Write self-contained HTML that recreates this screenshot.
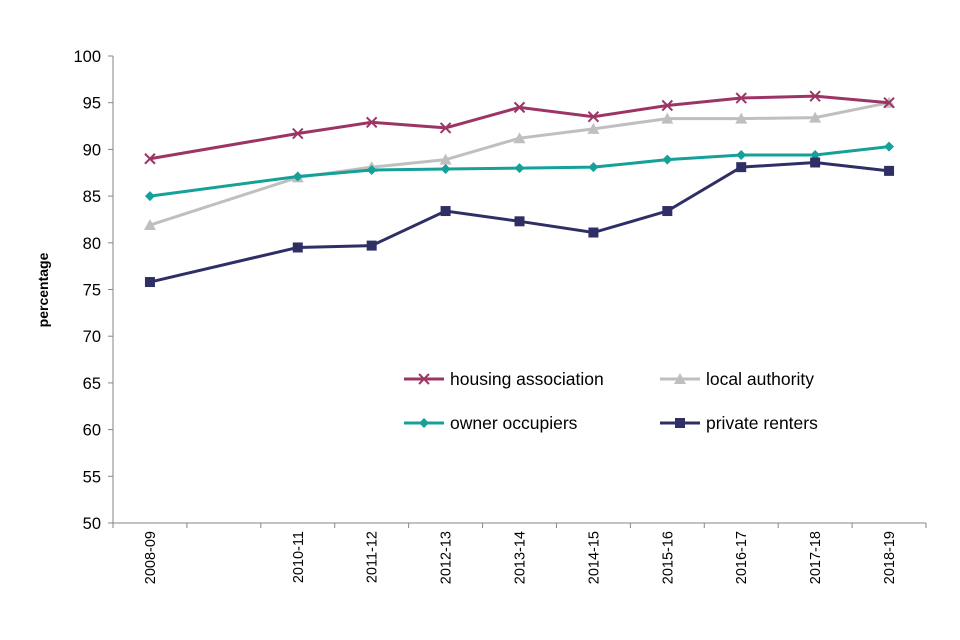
<!DOCTYPE html>
<html><head><meta charset="utf-8"><style>
body{margin:0;background:#fff;}
svg{display:block;font-family:"Liberation Sans",Arial,sans-serif;}
</style></head><body>
<svg id="chart" width="960" height="640"></svg>
<script>
const categories=["2008-09","2010-11","2011-12","2012-13","2013-14","2014-15","2015-16","2016-17","2017-18","2018-19"];
const slots=[0,2,3,4,5,6,7,8,9,10];
const housingAssociation=[89.0,91.7,92.9,92.3,94.5,93.5,94.7,95.5,95.7,95.0];
const localAuthority=[81.9,87.0,88.1,88.9,91.2,92.2,93.3,93.3,93.4,95.0];
const ownerOccupiers=[85.0,87.1,87.8,87.9,88.0,88.1,88.9,89.4,89.4,90.3];
const privateRenters=[75.8,79.5,79.7,83.4,82.3,81.1,83.4,88.1,88.6,87.7];
const yTicks=[50,55,60,65,70,75,80,85,90,95,100];
const NS="http://www.w3.org/2000/svg";
const svg=document.getElementById('chart');
const X0=113,X1=926,NSLOT=11,Y0=523,Y1=56;
const sw=(X1-X0)/NSLOT;
const x=s=>X0+(s+0.5)*sw;
const y=v=>Y0-(v-50)/50*(Y0-Y1);
function mk(t,a,p){const e=document.createElementNS(NS,t);for(const k in a)e.setAttribute(k,a[k]);(p||svg).appendChild(e);return e;}
let e;
e=mk('line',{x1:X0,y1:Y1,x2:X0,y2:Y0,stroke:'#868686','stroke-width':1});


e=mk('line',{x1:X0,y1:Y0,x2:X1,y2:Y0,stroke:'#868686','stroke-width':1});


yTicks.forEach(v=>{
 mk('line',{x1:X0-5,y1:y(v),x2:X0,y2:y(v),stroke:'#868686'});
 e=mk('text',{x:X0-12,y:y(v)+6,'text-anchor':'end','font-size':16.5,fill:'#000'});
 e.textContent=v;
 
 
});
for(let i=0;i<=NSLOT;i++)mk('line',{x1:X0+i*sw,y1:Y0,x2:X0+i*sw,y2:Y0+5,stroke:'#868686'});
categories.forEach((c,i)=>{
 const xx=x(slots[i]);
 e=mk('text',{x:0,y:0,'text-anchor':'end','font-size':14.5,fill:'#000',transform:`translate(${xx+5},531) rotate(-90)`});
 e.textContent=c;
 
 
});
e=mk('text',{x:0,y:0,'text-anchor':'middle','font-size':14,'font-weight':'bold',transform:'translate(48,290) rotate(-90)'});
e.textContent='percentage';


function marker(type,cx,cy,col,g){
 if(type==='x'){mk('path',{d:`M${cx-5},${cy-5}L${cx+5},${cy+5}M${cx-5},${cy+5}L${cx+5},${cy-5}`,stroke:col,'stroke-width':2,fill:'none'},g);}
 else if(type==='tri'){mk('path',{d:`M${cx},${cy-6}L${cx+6},${cy+5}L${cx-6},${cy+5}Z`,fill:col},g);}
 else if(type==='dia'){mk('path',{d:`M${cx},${cy-5}L${cx+5},${cy}L${cx},${cy+5}L${cx-5},${cy}Z`,fill:col},g);}
 else mk('rect',{x:cx-5,y:cy-5,width:10,height:10,fill:col},g);
}
const series=[
 {name:'local-authority',data:localAuthority,col:'#bfbfbf',m:'tri'},
 {name:'owner-occupiers',data:ownerOccupiers,col:'#16a09a',m:'dia'},
 {name:'private-renters',data:privateRenters,col:'#2f2f66',m:'sq'},
 {name:'housing-association',data:housingAssociation,col:'#9c3566',m:'x'}];
series.forEach(s=>{
 const g=mk('g',{});
 
 
 const pts=s.data.map((v,i)=>x(slots[i])+','+y(v)).join(' ');
 mk('polyline',{points:pts,fill:'none',stroke:s.col,'stroke-width':3},g);
 s.data.forEach((v,i)=>marker(s.m,x(slots[i]),y(v),s.col,g));
});
const legend=[['housing association','#9c3566','x',404,379],['local authority','#bfbfbf','tri',660,379],['owner occupiers','#16a09a','dia',404,423],['private renters','#2f2f66','sq',660,423]];
legend.forEach(l=>{
 const g=mk('g',{});
 
 
 mk('line',{x1:l[3],y1:l[4],x2:l[3]+40,y2:l[4],stroke:l[1],'stroke-width':3},g);
 marker(l[2],l[3]+20,l[4],l[1],g);
 const t=mk('text',{x:l[3]+46,y:l[4]+6,'font-size':17.5,fill:'#000'},g);
 t.textContent=l[0];
});
</script>
</body></html>
